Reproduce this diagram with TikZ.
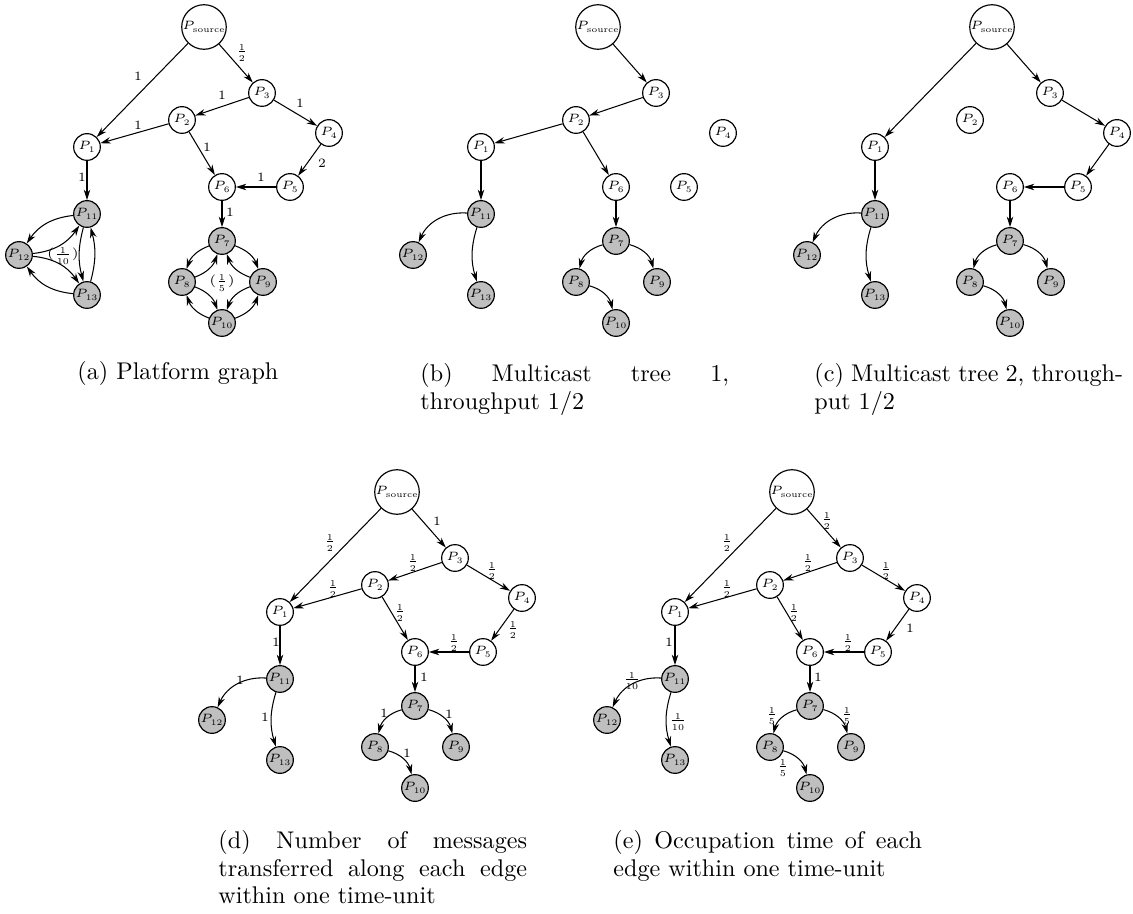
\documentclass[tikz,border=0pt]{standalone}
\usetikzlibrary{arrows.meta}
\DeclareFontShape{OML}{cmm}{m}{it}{<-6>cmmi5<6-8>cmmi7<8->cmmi10}{}
\DeclareFontShape{OT1}{cmr}{m}{n}{<-6>cmr5<6-8>cmr7<8->cmr10}{}
\DeclareFontShape{OMS}{cmsy}{m}{n}{<-6>cmsy5<6-8>cmsy7<8->cmsy10}{}
% #1 = panel prefix, #2 = position of the source node
\newcommand\platnodes[2]{%
 \begin{scope}[shift={#2}]
 \node[sn] (#1-src) at (0,0) {$P_{\mathrm{source}}$};
 \node[pn] (#1-P3) at (58,-66) {$P_3$};
 \node[pn] (#1-P2) at (-22,-93) {$P_2$};
 \node[pn] (#1-P4) at (125,-106) {$P_4$};
 \node[pn] (#1-P1) at (-117,-120) {$P_1$};
 \node[pn] (#1-P6) at (18,-160) {$P_6$};
 \node[pn] (#1-P5) at (86,-160) {$P_5$};
 \node[gn] (#1-P11) at (-117,-187) {$P_{11}$};
 \node[gn] (#1-P12) at (-185,-228) {$P_{12}$};
 \node[gn] (#1-P13) at (-117,-268) {$P_{13}$};
 \node[gn] (#1-P7) at (18,-214) {$P_7$};
 \node[gn] (#1-P8) at (-22,-255) {$P_8$};
 \node[gn] (#1-P9) at (59,-255) {$P_9$};
 \node[gn] (#1-P10) at (18,-296) {$P_{10}$};
 \end{scope}
}
\newcommand\mainedges[1]{%
 \draw[arr] (#1-src) -- (#1-P1);
 \draw[arr] (#1-src) -- (#1-P3);
 \draw[arr] (#1-P3) -- (#1-P2);
 \draw[arr] (#1-P3) -- (#1-P4);
 \draw[arr] (#1-P2) -- (#1-P1);
 \draw[arr] (#1-P2) -- (#1-P6);
 \draw[arr] (#1-P4) -- (#1-P5);
 \draw[arr] (#1-P5) -- (#1-P6);
 \draw[arr] (#1-P1) -- (#1-P11);
 \draw[arr] (#1-P6) -- (#1-P7);
}
\newcommand\lowertree[1]{%
 \draw[arr] (#1-P11) to[bend right=35] (#1-P12);
 \draw[arr] (#1-P11) to[bend right=17] (#1-P13);
 \draw[arr] (#1-P7) to[bend right=30] (#1-P8);
 \draw[arr] (#1-P7) to[bend left=30] (#1-P9);
 \draw[arr] (#1-P8) to[bend left=30] (#1-P10);
}
\begin{document}
\begin{tikzpicture}[x=0.431pt,y=0.431pt,
  pn/.style={circle,draw,line width=0.5pt,minimum size=11.5pt,inner sep=0pt,fill=white,font=\fontsize{5.2}{6}\selectfont},
  gn/.style={pn,fill=gray!50},
  sn/.style={pn,minimum size=17.2pt},
  arr/.style={-{Stealth[length=4.5pt,width=2.8pt]},line width=0.45pt},
  lbl/.style={font=\fontsize{5.5}{6.5}\selectfont,inner sep=0pt},
  captext/.style={anchor=north west,inner sep=0pt,text width=133pt,align=justify,font=\fontsize{10.4}{11.8}\selectfont}
]
\useasboundingbox (0,0) rectangle (1133,-914);

% (a) platform graph
\platnodes{a}{(204,-27)}
\mainedges{a}
\draw[arr] (a-P11) to[bend right=25] (a-P12);
\draw[arr] (a-P12) to[bend right=25] (a-P11);
\draw[arr] (a-P11) to[bend right=15] (a-P13);
\draw[arr] (a-P13) to[bend right=15] (a-P11);
\draw[arr] (a-P12) to[bend left=25] (a-P13);
\draw[arr] (a-P13) to[bend left=25] (a-P12);
\draw[arr] (a-P7) to[bend right=25] (a-P8);
\draw[arr] (a-P8) to[bend right=25] (a-P7);
\draw[arr] (a-P7) to[bend left=25] (a-P9);
\draw[arr] (a-P9) to[bend left=25] (a-P7);
\draw[arr] (a-P8) to[bend left=25] (a-P10);
\draw[arr] (a-P10) to[bend left=25] (a-P8);
\draw[arr] (a-P9) to[bend right=25] (a-P10);
\draw[arr] (a-P10) to[bend right=25] (a-P9);
\begin{scope}[shift={(204,-27)}]
 \node[lbl] (a-l1) at (-66,-49) {1};
 \node[lbl] (a-l2) at (38,-26) {$\frac{1}{2}$};
 \node[lbl] (a-l3) at (18,-68) {1};
 \node[lbl] (a-l4) at (96,-76) {1};
 \node[lbl] (a-l5) at (-66,-98) {1};
 \node[lbl] (a-l6) at (3,-120) {1};
 \node[lbl] (a-l7) at (118,-136) {2};
 \node[lbl] (a-l8) at (57,-150) {1};
 \node[lbl] (a-l9) at (-122,-150) {1};
 \node[lbl] (a-l10) at (26,-185) {1};
 \node[lbl] (a-l11) at (-141,-229) {$(\frac{1}{10})$};
 \node[lbl] (a-l12) at (18,-256) {$(\frac{1}{5})$};
\end{scope}

% (b) multicast tree 1
\platnodes{b}{(598,-27)}
\draw[arr] (b-src) -- (b-P3);
\draw[arr] (b-P3) -- (b-P2);
\draw[arr] (b-P2) -- (b-P1);
\draw[arr] (b-P2) -- (b-P6);
\draw[arr] (b-P1) -- (b-P11);
\draw[arr] (b-P6) -- (b-P7);
\lowertree{b}

% (c) multicast tree 2
\platnodes{c}{(992,-27)}
\draw[arr] (c-src) -- (c-P1);
\draw[arr] (c-src) -- (c-P3);
\draw[arr] (c-P3) -- (c-P4);
\draw[arr] (c-P4) -- (c-P5);
\draw[arr] (c-P5) -- (c-P6);
\draw[arr] (c-P1) -- (c-P11);
\draw[arr] (c-P6) -- (c-P7);
\lowertree{c}

% (d) number of messages
\platnodes{d}{(397,-492)}
\mainedges{d}
\lowertree{d}
\begin{scope}[shift={(397,-492)}]
 \node[lbl] (d-l1) at (-67,-51) {$\frac{1}{2}$};
 \node[lbl] (d-l2) at (40,-29) {1};
 \node[lbl] (d-l3) at (16,-71) {$\frac{1}{2}$};
 \node[lbl] (d-l4) at (95,-79) {$\frac{1}{2}$};
 \node[lbl] (d-l5) at (-64,-97) {$\frac{1}{2}$};
 \node[lbl] (d-l6) at (3,-121) {$\frac{1}{2}$};
 \node[lbl] (d-l7) at (116,-138) {$\frac{1}{2}$};
 \node[lbl] (d-l8) at (57,-151) {$\frac{1}{2}$};
 \node[lbl] (d-l9) at (-121,-150) {1};
 \node[lbl] (d-l10) at (27,-185) {1};
 \node[lbl] (d-l11) at (-157,-188) {1};
 \node[lbl] (d-l12) at (-132,-225) {1};
 \node[lbl] (d-l13) at (-13,-221) {1};
 \node[lbl] (d-l14) at (52,-222) {1};
 \node[lbl] (d-l15) at (10,-261) {1};
\end{scope}

% (e) occupation time
\platnodes{e}{(792,-492)}
\mainedges{e}
\lowertree{e}
\begin{scope}[shift={(792,-492)}]
 \node[lbl] (e-l1) at (-65,-51) {$\frac{1}{2}$};
 \node[lbl] (e-l2) at (35,-29) {$\frac{1}{2}$};
 \node[lbl] (e-l3) at (16,-71) {$\frac{1}{2}$};
 \node[lbl] (e-l4) at (94,-79) {$\frac{1}{2}$};
 \node[lbl] (e-l5) at (-65,-97) {$\frac{1}{2}$};
 \node[lbl] (e-l6) at (2,-121) {$\frac{1}{2}$};
 \node[lbl] (e-l7) at (118,-136) {1};
 \node[lbl] (e-l8) at (56,-151) {$\frac{1}{2}$};
 \node[lbl] (e-l9) at (-123,-150) {1};
 \node[lbl] (e-l10) at (26,-185) {1};
 \node[lbl] (e-l11) at (-160,-189) {$\frac{1}{10}$};
 \node[lbl] (e-l12) at (-114,-230) {$\frac{1}{10}$};
 \node[lbl] (e-l13) at (-20,-224) {$\frac{1}{5}$};
 \node[lbl] (e-l14) at (55,-224) {$\frac{1}{5}$};
 \node[lbl] (e-l15) at (-9,-276) {$\frac{1}{5}$};
\end{scope}

% captions
\node[anchor=base west,inner sep=0pt,font=\fontsize{10.4}{11.8}\selectfont] (capa) at (77,-380) {(a) Platform graph};
\node[captext] (capb) at (420,-362) {\strut(b) Multicast tree 1,\linebreak throughput $1/2$};
\node[captext] (capc) at (814,-362) {\strut(c) Multicast tree 2, through-\linebreak put $1/2$};
\node[captext] (capd) at (218,-829) {\strut(d) Number of messages\linebreak transferred along each edge\linebreak within one time-unit};
\node[captext] (cape) at (613,-829) {\strut(e) Occupation time of each\linebreak edge within one time-unit};
\end{tikzpicture}
\end{document}
